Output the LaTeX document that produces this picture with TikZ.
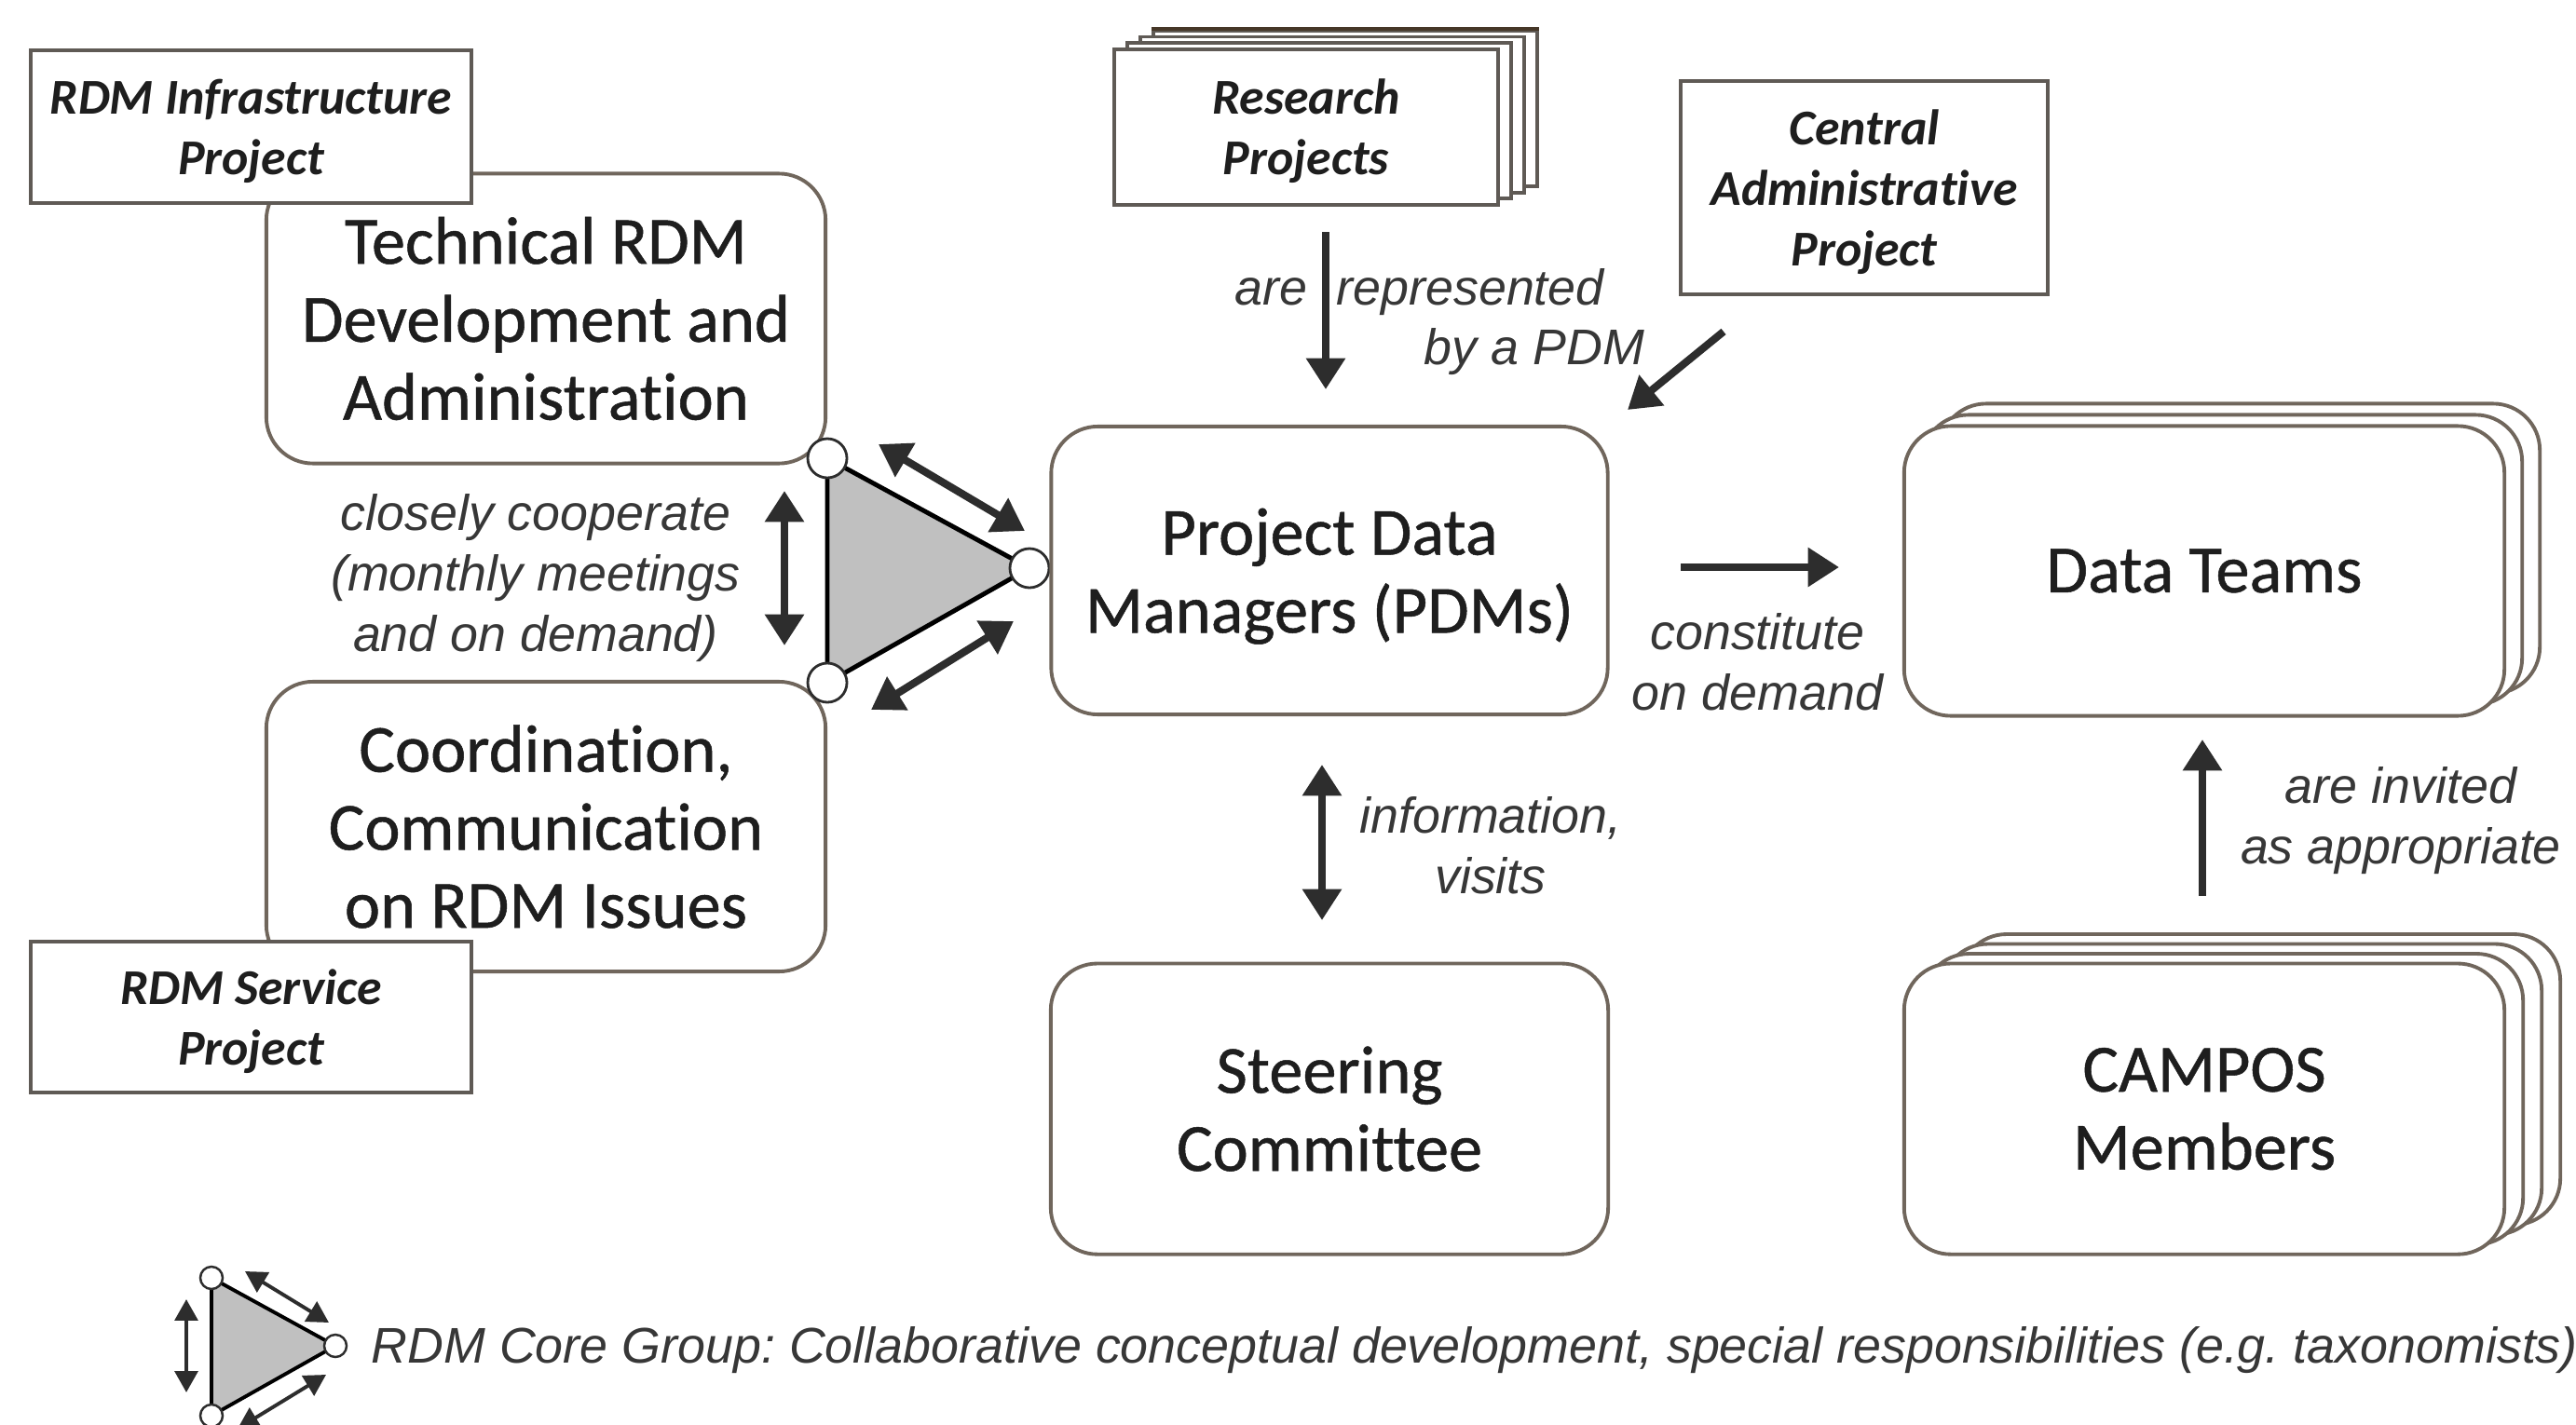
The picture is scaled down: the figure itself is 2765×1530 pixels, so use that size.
\documentclass[tikz,border=0pt]{standalone}
\usepackage{fontspec}
\setmainfont{Carlito}[Ligatures=NoCommon]
\newfontfamily\boxfont{Carlito}[Ligatures=NoCommon, FakeBold=0.7]
\newfontfamily\arialfont{Liberation Sans}
\usetikzlibrary{arrows.meta}
\frenchspacing
\definecolor{boxc}{RGB}{112,102,92}
\definecolor{projc}{RGB}{95,90,85}
\definecolor{darkbox}{RGB}{70,55,40}
\definecolor{txtc}{RGB}{30,30,30}
\definecolor{arrc}{RGB}{45,45,45}
\definecolor{trifill}{RGB}{192,192,192}
\definecolor{lblc}{RGB}{55,55,55}
\tikzset{
  mainbox/.style={draw=boxc, line width=1.1pt, rounded corners=0.5cm, fill=white, align=center, text=txtc, font=\boxfont\fontsize{20.6}{23.8}\selectfont, inner sep=0pt},
  projbox/.style={draw=projc, line width=1.1pt, fill=white, align=center, text=txtc, font=\fontsize{15.3}{18.5}\selectfont\bfseries\itshape, inner sep=0pt, text depth=0pt},
  lbl/.style={align=center, text=lblc, font=\arialfont\itshape\fontsize{15.3}{18.5}\selectfont, inner sep=0pt},
  arr/.style={draw=arrc, line width=2.3pt, -{Triangle[length=9.5pt,width=11.5pt]}},
  darr/.style={draw=arrc, line width=2.3pt, {Triangle[length=9.5pt,width=11.5pt]}-{Triangle[length=9.5pt,width=11.5pt]}},
  sarr/.style={draw=arrc, line width=1.1pt, {Triangle[length=6.5pt,width=7pt]}-{Triangle[length=6.5pt,width=7pt]}},
  tri/.style={draw=black, line width=1.4pt, fill=trifill, line join=round},
  vtx/.style={circle, draw=arrc, line width=0.8pt, fill=white, minimum size=0.42cm, inner sep=0pt},
  svtx/.style={circle, draw=arrc, line width=0.7pt, fill=white, minimum size=0.24cm, inner sep=0pt},
}
\begin{document}
\begin{tikzpicture}[x=0.01cm, y=-0.01cm]
\clip (0,0) rectangle (2765,1530);
\fill[white] (0,0) rectangle (2765,1530);

% left column
\node[mainbox, minimum width=6.00cm, minimum height=3.11cm] (tech) at (586,342) {Technical RDM\\Development and\\Administration};
\node[projbox, minimum width=4.73cm, minimum height=1.64cm] (infra) at (269.5,136) {RDM Infrastructure\\Project};
\node[mainbox, minimum width=6.00cm, minimum height=3.11cm] (coord) at (586,887.5) {Coordination,\\Communication\\on RDM Issues};
\node[projbox, minimum width=4.73cm, minimum height=1.62cm] (service) at (269.5,1092) {RDM Service\\Project};

% core group triangle
\coordinate (tA) at (888,492);
\coordinate (tB) at (888,733);
\coordinate (tC) at (1105,610);
\draw[tri] (tA) -- (tB) -- (tC) -- cycle;
\node[vtx] (vA) at (tA) {};
\node[vtx] (vB) at (tB) {};
\node[vtx] (vC) at (tC) {};

\node[lbl] (coop) at (575,621) {closely cooperate\\(monthly meetings\\and on demand)};
\coordinate (cpT) at (842,527);
\coordinate (cpB) at (842,693);
\draw[darr] (cpT) -- (cpB);
\coordinate (d1a) at (943,477);
\coordinate (d1b) at (1100,570);
\draw[darr] (d1a) -- (d1b);
\coordinate (d2a) at (935,762);
\coordinate (d2b) at (1088,667);
\draw[darr] (d2a) -- (d2b);

% centre column
\foreach \i in {3,2,1}{
  \node[projbox, minimum width=4.12cm, minimum height=1.67cm] (rp\i) at ({1402+14*\i},{136.5-6.7*\i}) {};
}
\draw[darkbox, line width=1.3pt] (rp3.north west) -- (rp3.north east);
\node[projbox, minimum width=4.12cm, minimum height=1.67cm] (rp) at (1402,136.5) {Research\\Projects};

\node[projbox, minimum width=3.945cm, minimum height=2.29cm] (ca) at (2001,201.5) {Central\\Administrative\\Project};

\node[mainbox, minimum width=5.97cm, minimum height=3.09cm, text depth=0pt] (pdm) at (1427,612.5) {Project Data\\Managers (PDMs)};
\node[mainbox, minimum width=5.98cm, minimum height=3.12cm] (st) at (1427,1190.6) {Steering\\Committee};

\node[lbl] (rep1) at (1523.5,314) {are\hspace{9pt}represented};
\node[lbl] (rep2) at (1647,378) {by a PDM};
\coordinate (rpA) at (1423,249);
\coordinate (rpB) at (1423,418);
\draw[arr] (rpA) -- (rpB);
\coordinate (caA) at (1850,356);
\coordinate (caB) at (1747,440);
\draw[arr] (caA) -- (caB);

\coordinate (infA) at (1419,821);
\coordinate (infB) at (1419,988);
\draw[darr] (infA) -- (infB);
\node[lbl] (info) at (1600,908) {information,\\visits};

% right column
\foreach \i in {2,1}{
  \node[mainbox, minimum width=6.44cm, minimum height=3.11cm] (dt\i) at ({2366+19*\i},{613-12*\i}) {};
}
\node[mainbox, minimum width=6.44cm, minimum height=3.11cm] (dt) at (2366,613) {Data Teams};

\foreach \i in {3,2,1}{
  \node[mainbox, minimum width=6.44cm, minimum height=3.12cm] (cm\i) at ({2366+20*\i},{1190.6-10.5*\i}) {};
}
\node[mainbox, minimum width=6.44cm, minimum height=3.12cm] (cm) at (2366,1190.6) {CAMPOS\\Members};

\coordinate (coA) at (1804,609);
\coordinate (coB) at (1974,609);
\draw[arr] (coA) -- (coB);
\node[lbl] (const) at (1886.5,711) {constitute\\on demand};

\coordinate (invA) at (2364,962);
\coordinate (invB) at (2364,794);
\draw[arr] (invA) -- (invB);
\node[lbl] (inv) at (2577,881) {are invited\\as appropriate};

% legend
\coordinate (lA) at (227,1372);
\coordinate (lB) at (227,1520);
\coordinate (lC) at (360,1445);
\draw[tri, line width=1.1pt] (lA) -- (lB) -- (lC) -- cycle;
\node[svtx] (lvA) at (lA) {};
\node[svtx] (lvB) at (lB) {};
\node[svtx] (lvC) at (lC) {};
\coordinate (lvT) at (200,1395);
\coordinate (lvD) at (200,1495);
\draw[sarr] (lvT) -- (lvD);
\coordinate (lu1) at (263,1365);
\coordinate (lu2) at (353,1420);
\draw[sarr] (lu1) -- (lu2);
\coordinate (ll1) at (255,1534);
\coordinate (ll2) at (350,1476);
\draw[sarr] (ll1) -- (ll2);
\node[lbl, anchor=base west] (legend) at (398,1463) {RDM Core Group: Collaborative conceptual development, special responsibilities (e.g. taxonomists)};
\end{tikzpicture}
\end{document}
